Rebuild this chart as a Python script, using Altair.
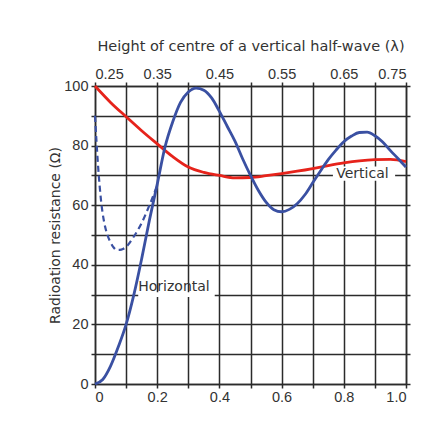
import altair as alt
import pandas as pd

# Horizontal dipole (solid)
h_x = [0, 0.025, 0.05, 0.075, 0.1, 0.125, 0.15, 0.175, 0.2, 0.225, 0.25, 0.275, 0.3, 0.325,
       0.35, 0.375, 0.4, 0.425, 0.45, 0.475, 0.5, 0.525, 0.55, 0.575, 0.6, 0.625, 0.65, 0.675,
       0.7, 0.725, 0.75, 0.775, 0.8, 0.825, 0.85, 0.875, 0.9, 0.925, 0.95, 0.975, 1.0]
h_y = [0, 1.5, 6, 12.5, 20, 30, 42, 55, 67, 79.5, 88, 94.5, 98, 99.3,
       98.6, 96, 91.5, 86.5, 81.5, 75.5, 70, 65, 61, 58.5, 57.8, 58.6, 60.5, 63.5,
       67.5, 71.5, 75.3, 78.5, 81.3, 83.2, 84.4, 84.5, 83.3, 81.2, 78.3, 75.6, 72.8]

# Horizontal dipole, perfect-ground case (dashed)
d_x = [0, 0.005, 0.01, 0.02, 0.03, 0.04, 0.05, 0.06, 0.07, 0.08, 0.09, 0.1, 0.125, 0.15, 0.175, 0.2]
d_y = [90, 81, 73, 61, 54, 50, 47.5, 45.8, 45, 45, 45.3, 46, 49.5, 54, 60, 66.5]

# Vertical dipole
v_x = [0, 0.05, 0.1, 0.15, 0.2, 0.25, 0.3, 0.35, 0.4, 0.45, 0.5, 0.55, 0.6, 0.65, 0.7,
       0.75, 0.8, 0.85, 0.9, 0.95, 1.0]
v_y = [100, 94.5, 89.7, 85, 80.6, 76.3, 72.8, 71, 70, 69.2, 69.3, 69.9, 70.6, 71.4, 72.3,
       73.3, 74.2, 74.9, 75.3, 75.4, 74.6]

# Labels
lab_text = ["Horizontal", "Vertical"]
lab_x = [0.139, 0.86]
lab_y = [32.6, 70.5]
box_x = [0.139, 0.765]
box_x2 = [0.385, 0.965]
box_y = [29.2, 68.2]
box_y2 = [30.8, 73.0]

x_ticks = [round(i * 0.1, 1) for i in range(11)]
y_ticks = list(range(0, 101, 10))

FONT = "DejaVu Sans"
TICKFONT = "Liberation Sans"
INK = "#2b2b2b"
TXT = "#333333"
RED = "#e6231b"
BLUE = "#3a50a2"

h_df = pd.DataFrame({"x": h_x, "y": h_y})
d_df = pd.DataFrame({"x": d_x, "y": d_y})
v_df = pd.DataFrame({"x": v_x, "y": v_y})
lab_df = pd.DataFrame({"t": lab_text, "x": lab_x, "y": lab_y})
box_df = pd.DataFrame({"x": box_x, "x2": box_x2, "y": box_y, "y2": box_y2})

xs = alt.Scale(domain=[0, 1], nice=False, zero=False)
ys = alt.Scale(domain=[0, 100], nice=False, zero=False)

x_bottom = alt.Axis(orient="bottom", values=x_ticks, grid=True, title=None,
                    labelExpr="datum.value == 0 ? '0' : (round(datum.value*10) % 2 == 0 ? format(datum.value, '.1f') : '')",
                    labelPadding=2)
y_left = alt.Axis(orient="left", values=y_ticks, grid=True,
                  title="Radioation resistance (Ω)",
                  labelExpr="datum.value % 20 == 0 ? datum.label : ''",
                  labelPadding=3, titlePadding=1)

X = alt.X("x:Q", scale=xs, axis=x_bottom)
Y = alt.Y("y:Q", scale=ys, axis=y_left)

boxes = alt.Chart(box_df).mark_rect(color="white").encode(x=X, x2="x2:Q", y=Y, y2="y2:Q")

red = alt.Chart(v_df).mark_line(color=RED, strokeWidth=2.8, interpolate="monotone").encode(x=X, y=Y)
blue = alt.Chart(h_df).mark_line(color=BLUE, strokeWidth=2.8, interpolate="monotone").encode(x=X, y=Y)
dash = alt.Chart(d_df).mark_line(color=BLUE, strokeWidth=2.2, strokeDash=[6, 4],
                                 interpolate="monotone").encode(x=X, y=Y)

text_h = alt.Chart(lab_df.iloc[[0]]).mark_text(align="left", baseline="middle", font=FONT,
                                                 fontSize=14, color=TXT).encode(x=X, y=Y, text="t:N")
text_v = alt.Chart(lab_df.iloc[[1]]).mark_text(align="center", baseline="middle", font=FONT,
                                                 fontSize=14, color=TXT).encode(x=X, y=Y, text="t:N")

main = alt.layer(boxes, red, blue, dash, text_h, text_v)

axes2 = alt.Chart(v_df).mark_point(opacity=0).encode(
    x=alt.X("x:Q", scale=xs, axis=alt.Axis(
        orient="top", values=x_ticks, grid=False,
        title="Height of centre of a vertical half-wave (λ)",
        titleFontSize=14.5,
        labelExpr="round(datum.value*10) % 2 == 0 ? format(datum.value/2 + 0.25, '.2f') : ''",
        labelPadding=1, titlePadding=13)),
    y=alt.Y("y:Q", scale=ys, axis=alt.Axis(orient="right", values=y_ticks, grid=False,
                                           labels=False, title=None)),
)

chart = alt.layer(main, axes2).resolve_scale(x="independent", y="independent").properties(
    width=311, height=298,
    autosize=alt.AutoSizeParams(type="none"),
    padding={"left": 87, "top": 78, "right": 9, "bottom": 43},
    background="white",
).configure_view(stroke=None).configure_axis(
    domainColor=INK, domainWidth=1.5, tickColor=INK, tickWidth=1.5, tickSize=4,
    gridColor=INK, gridWidth=1.5, gridOpacity=1,
    labelFont=TICKFONT, labelFontSize=14.5, labelColor=TXT,
    titleFont=FONT, titleFontSize=14, titleColor=TXT, titleFontWeight="normal",
)

chart.save("out.html", embed_options={"renderer": "svg", "actions": False})
